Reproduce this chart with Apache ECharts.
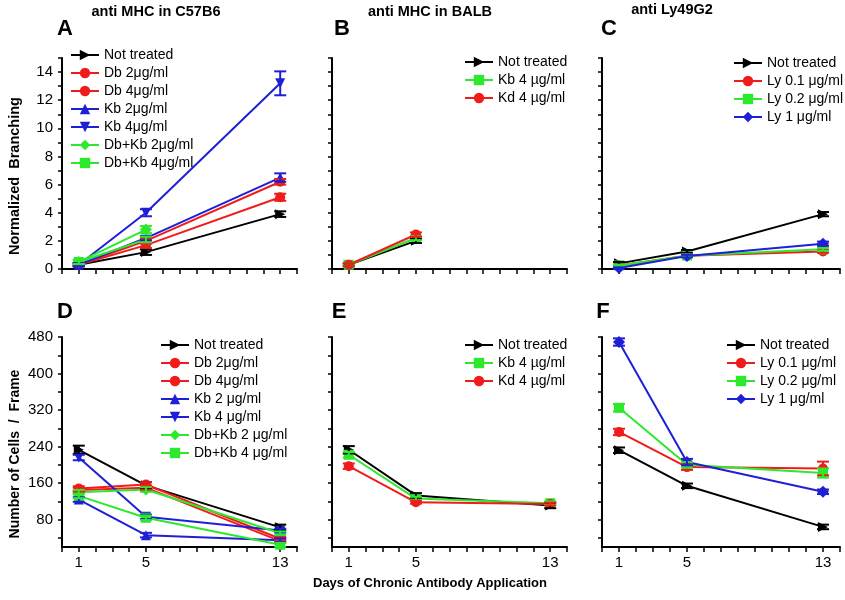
<!DOCTYPE html>
<html>
<head>
<meta charset="utf-8">
<script src="https://cdn.jsdelivr.net/npm/echarts@6/dist/echarts.min.js"></script>
<style>
  html, body { margin: 0; background: #fff; }
  #chart { width: 845px; height: 600px; }
</style>
</head>
<body>
<div id="chart"></div>
<script>
const days = [1, 5, 13]
const xTickLabels = [1, 5, 13]
const branchLabels = [0, 2, 4, 6, 8, 10, 12, 14]
const cellLabels = [80, 160, 240, 320, 400, 480]
const cellTicks = [40, 80, 120, 160, 200, 240, 280, 320, 360, 400, 440, 480]

// A: anti MHC in C57B6, normalized branching
const aNot = [0.3, 1.2, 3.9]
const aNotErr = [0.1, 0.2, 0.2]
const aDb2 = [0.3, 1.7, 5.1]
const aDb2Err = [0.1, 0.2, 0.25]
const aDb4 = [0.3, 2.0, 6.2]
const aDb4Err = [0.1, 0.2, 0.2]
const aKb2 = [0.3, 2.2, 6.5]
const aKb2Err = [0.1, 0.15, 0.3]
const aKb4 = [0.3, 4.0, 13.2]
const aKb4Err = [0.1, 0.25, 0.85]
const aDbKb2 = [0.5, 2.8]
const aDbKb2Err = [0.15, 0.25]
const aDbKb4 = [0.5, 2.1]
const aDbKb4Err = [0.15, 0.2]

// B: anti MHC in BALB
const bNot = [0.3, 2.0]
const bNotErr = [0.1, 0.15]
const bKb4 = [0.3, 2.2]
const bKb4Err = [0.1, 0.15]
const bKd4 = [0.3, 2.45]
const bKd4Err = [0.1, 0.15]

// C: anti Ly49G2
const cNot = [0.4, 1.25, 3.9]
const cNotErr = [0.1, 0.1, 0.15]
const cLy01 = [0.25, 0.95, 1.25]
const cLy01Err = [0.05, 0.1, 0.1]
const cLy02 = [0.25, 0.95, 1.4]
const cLy02Err = [0.05, 0.1, 0.1]
const cLy1 = [0.07, 0.93, 1.8]
const cLy1Err = [0.05, 0.1, 0.15]

// D: cells / frame, anti MHC in C57B6
const dNot = [233, 155, 63]
const dNotErr = [9, 7, 6]
const dDb2 = [148, 157, 38]
const dDb2Err = [5, 5, 4]
const dDb4 = [145, 150, 33]
const dDb4Err = [5, 5, 4]
const dKb2 = [124, 46, 35]
const dKb2Err = [5, 5, 4]
const dKb4 = [216, 86, 56]
const dKb4Err = [6, 5, 4]
const dDbKb2 = [140, 146, 50]
const dDbKb2Err = [5, 5, 4]
const dDbKb4 = [132, 84, 25]
const dDbKb4Err = [5, 5, 4]

// E: anti MHC in BALB
const eNot = [233, 133, 111]
const eNotErr = [8, 5, 6]
const eKb4 = [222, 126, 116]
const eKb4Err = [6, 4, 4]
const eKd4 = [197, 118, 114]
const eKd4Err = [6, 3, 3]

// F: anti Ly49G2
const fNot = [232, 154, 64]
const fNotErr = [6, 5, 5]
const fLy01 = [272, 195, 192]
const fLy01Err = [7, 6, 15]
const fLy02 = [325, 200, 182]
const fLy02Err = [8, 6, 10]
const fLy1 = [469, 206, 141]
const fLy1Err = [8, 7, 5]

const RED = '#f01c1c'
const BLUE = '#1f1fd6'
const GREEN = '#2ee82e'
const BLACK = '#000'
const FONT = 'Arial, "Liberation Sans", sans-serif'

const looks = {
  not: { color: BLACK, symbol: 'triangle', rotate: -90 },
  circle: { color: RED, symbol: 'circle', rotate: 0 },
  up: { color: BLUE, symbol: 'triangle', rotate: 0 },
  down: { color: BLUE, symbol: 'triangle', rotate: 180 },
  diamond: { color: GREEN, symbol: 'diamond', rotate: 0 },
  square: { color: GREEN, symbol: 'rect', rotate: 0 },
  redCircle: { color: RED, symbol: 'circle', rotate: 0 },
  greenSquare: { color: GREEN, symbol: 'rect', rotate: 0 },
  blueDiamond: { color: BLUE, symbol: 'diamond', rotate: 0 }
}

const series = []
const legendNames = [[], [], [], [], [], []]

function addLine (gi, name, values, errs, look) {
  const l = looks[look]
  legendNames[gi].push(name)
  series.push({
    type: 'line',
    name: name,
    xAxisIndex: gi,
    yAxisIndex: gi,
    data: values.map((v, i) => [days[i], v]),
    symbol: l.symbol,
    symbolSize: l.symbol === 'diamond' ? 12 : 10,
    symbolRotate: l.rotate,
    showSymbol: true,
    lineStyle: { color: l.color, width: 2 },
    itemStyle: { color: l.color },
    animation: false,
    z: 3
  })
  series.push({
    type: 'custom',
    xAxisIndex: gi,
    yAxisIndex: gi,
    silent: true,
    animation: false,
    z: 4,
    data: values.map((v, i) => [days[i], v, errs[i]]),
    renderItem (params, api) {
      const x = api.value(0)
      const y = api.value(1)
      const e = api.value(2)
      const hi = api.coord([x, y + e])
      const lo = api.coord([x, y - e])
      const w = 6
      const st = { stroke: l.color, lineWidth: 2 }
      return {
        type: 'group',
        children: [
          { type: 'line', shape: { x1: hi[0], y1: hi[1], x2: lo[0], y2: lo[1] }, style: st },
          { type: 'line', shape: { x1: hi[0] - w, y1: hi[1], x2: hi[0] + w, y2: hi[1] }, style: st },
          { type: 'line', shape: { x1: lo[0] - w, y1: lo[1], x2: lo[0] + w, y2: lo[1] }, style: st }
        ]
      }
    }
  })
}

addLine(0, 'Not treated', aNot, aNotErr, 'not')
addLine(0, 'Db 2μg/ml', aDb2, aDb2Err, 'circle')
addLine(0, 'Db 4μg/ml', aDb4, aDb4Err, 'circle')
addLine(0, 'Kb 2μg/ml', aKb2, aKb2Err, 'up')
addLine(0, 'Kb 4μg/ml', aKb4, aKb4Err, 'down')
addLine(0, 'Db+Kb 2μg/ml', aDbKb2, aDbKb2Err, 'diamond')
addLine(0, 'Db+Kb 4μg/ml', aDbKb4, aDbKb4Err, 'square')

addLine(1, 'Not treated', bNot, bNotErr, 'not')
addLine(1, 'Kb 4 µg/ml', bKb4, bKb4Err, 'greenSquare')
addLine(1, 'Kd 4 µg/ml', bKd4, bKd4Err, 'redCircle')

addLine(2, 'Not treated', cNot, cNotErr, 'not')
addLine(2, 'Ly 0.1 μg/ml', cLy01, cLy01Err, 'redCircle')
addLine(2, 'Ly 0.2 μg/ml', cLy02, cLy02Err, 'greenSquare')
addLine(2, 'Ly 1 μg/ml', cLy1, cLy1Err, 'blueDiamond')

addLine(3, 'Not treated', dNot, dNotErr, 'not')
addLine(3, 'Db 2μg/ml', dDb2, dDb2Err, 'circle')
addLine(3, 'Db 4μg/ml', dDb4, dDb4Err, 'circle')
addLine(3, 'Kb 2 μg/ml', dKb2, dKb2Err, 'up')
addLine(3, 'Kb 4 μg/ml', dKb4, dKb4Err, 'down')
addLine(3, 'Db+Kb 2 μg/ml', dDbKb2, dDbKb2Err, 'diamond')
addLine(3, 'Db+Kb 4 μg/ml', dDbKb4, dDbKb4Err, 'square')

addLine(4, 'Not treated', eNot, eNotErr, 'not')
addLine(4, 'Kb 4 µg/ml', eKb4, eKb4Err, 'greenSquare')
addLine(4, 'Kd 4 µg/ml', eKd4, eKd4Err, 'redCircle')

addLine(5, 'Not treated', fNot, fNotErr, 'not')
addLine(5, 'Ly 0.1 μg/ml', fLy01, fLy01Err, 'redCircle')
addLine(5, 'Ly 0.2 μg/ml', fLy02, fLy02Err, 'greenSquare')
addLine(5, 'Ly 1 μg/ml', fLy1, fLy1Err, 'blueDiamond')

const grids = [
  { left: 62, top: 58, width: 235, height: 211 },
  { left: 332, top: 58, width: 235, height: 211 },
  { left: 602, top: 58, width: 238, height: 211 },
  { left: 62, top: 337, width: 235, height: 210 },
  { left: 332, top: 337, width: 235, height: 210 },
  { left: 602, top: 337, width: 238, height: 210 }
].map(g => Object.assign({ outerBoundsMode: 'none' }, g))

const axisLine = { show: true, onZero: false, lineStyle: { color: BLACK, width: 2 } }

const xAxes = grids.map((g, i) => ({
  type: 'value',
  gridIndex: i,
  min: 0,
  max: 14,
  interval: 1,
  axisLine: axisLine,
  axisTick: { show: true, length: 5, lineStyle: { color: BLACK, width: 1.5 } },
  splitLine: { show: false },
  axisLabel: i < 3
    ? { show: false }
    : { show: true, customValues: xTickLabels, color: BLACK, fontSize: 15, fontFamily: FONT, margin: 8 }
}))

const yAxes = grids.map((g, i) => {
  const top = i < 3
  const ax = {
    type: 'value',
    gridIndex: i,
    axisLine: axisLine,
    splitLine: { show: false },
    axisTick: { show: true, length: 4, lineStyle: { color: BLACK, width: 1.5 } },
    axisLabel: { show: i === 0 || i === 3, color: BLACK, fontSize: 15, fontFamily: FONT, margin: 9 }
  }
  if (top) {
    ax.min = 0
    ax.max = 15
    ax.interval = 1
    ax.axisLabel.customValues = branchLabels
  } else {
    ax.min = 20
    ax.max = 480
    ax.axisLabel.customValues = cellLabels
    ax.axisTick.customValues = cellTicks
  }
  return ax
})

const legendPos = [
  { left: 70, top: 48 },
  { left: 464, top: 55 },
  { left: 733, top: 56 },
  { left: 160, top: 338 },
  { left: 464, top: 338 },
  { left: 726, top: 338 }
]

const legends = legendPos.map((p, i) => ({
  left: p.left,
  top: p.top,
  orient: 'vertical',
  data: legendNames[i],
  itemWidth: 28,
  itemHeight: 13,
  itemGap: 4,
  padding: 0,
  selectedMode: false,
  textStyle: { color: BLACK, fontSize: 14, fontFamily: FONT, padding: [0, 0, 0, 0] }
}))

function label (text, x, y, size, bold, rotation) {
  return {
    type: 'text',
    x: x,
    y: y,
    rotation: rotation || 0,
    style: {
      text: text,
      fill: BLACK,
      font: (bold ? 'bold ' : '') + size + 'px ' + FONT,
      align: 'center',
      verticalAlign: 'middle'
    }
  }
}

const texts = [
  label('anti MHC in C57B6', 156, 12, 14.5, true),
  label('anti MHC in BALB', 430, 12, 14.5, true),
  label('anti Ly49G2', 672, 10, 14.5, true),
  label('A', 65, 29, 22, true),
  label('B', 342, 29, 22, true),
  label('C', 609, 29, 22, true),
  label('D', 65, 312, 22, true),
  label('E', 339, 312, 22, true),
  label('F', 603, 312, 22, true),
  label('Normalized  Branching', 15, 176, 14.5, true, Math.PI / 2),
  label('Number of Cells  /  Frame', 15, 454, 14, true, Math.PI / 2),
  label('Days of Chronic Antibody Application', 430, 583, 13, true)
]

const chart = echarts.init(document.getElementById('chart'), null, { renderer: 'canvas' })
chart.setOption({
  backgroundColor: '#fff',
  animation: false,
  grid: grids,
  xAxis: xAxes,
  yAxis: yAxes,
  legend: legends,
  graphic: texts,
  series: series
})
</script>
</body>
</html>
